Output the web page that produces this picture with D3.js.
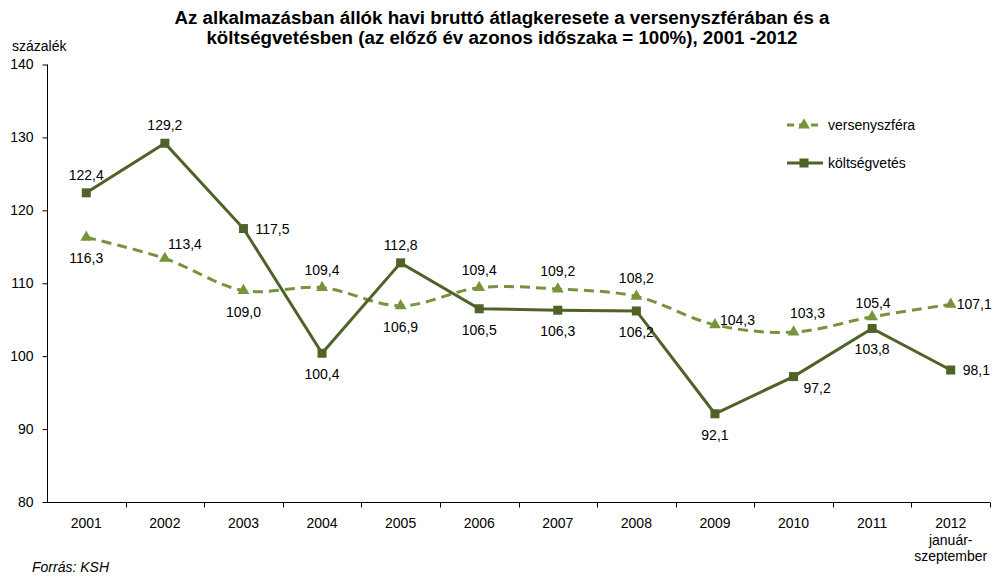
<!DOCTYPE html>
<html><head><meta charset="utf-8">
<script src="https://cdn.jsdelivr.net/npm/d3@7"></script>
<style>
html,body{margin:0;padding:0;background:#fff;}
text{font-family:"Liberation Sans",Arial,sans-serif;}
</style></head>
<body>
<svg id="chart" width="992" height="576"></svg>
<script>
const categories = ["2001","2002","2003","2004","2005","2006","2007","2008","2009","2010","2011","2012"];
const versenyszfera = [116.3,113.4,109.0,109.4,106.9,109.4,109.2,108.2,104.3,103.3,105.4,107.1];
const koltsegvetes = [122.4,129.2,117.5,100.4,112.8,106.5,106.3,106.2,92.1,97.2,103.8,98.1];
const yTicks = [80,90,100,110,120,130,140];
const seriesNames = ["versenyszféra","költségvetés"];
const titleLines = ["Az alkalmazásban állók havi bruttó átlagkeresete a versenyszférában és a",
                    "költségvetésben (az előző év azonos időszaka = 100%), 2001 -2012"];
// label placement codes
const vPlace = ["below","aboveRight","below","above","below","above","above","above","rightUp","aboveShift","aboveLow","right"];
const kPlace = ["above","above","rightFar","below","above","below","below","below","below","rightDown","below","rightFar"];

const svg = d3.select("#chart");
const x = d3.scaleBand().domain(categories).range([47, 990]);
const y = d3.scaleLinear().domain([80,140]).range([502, 64.5]);
const cx = d => x(d) + x.bandwidth()/2;

const cDash = "#77933C", cSolid = "#4F6228";
const FS = "14px";

// title
const t1 = svg.append("text").attr("x", 502).attr("y", 24).attr("text-anchor","middle")
  .style("font-size","18px").style("font-weight","bold").text(titleLines[0]);
const t2 = svg.append("text").attr("x", 502).attr("y", 44).attr("text-anchor","middle")
  .style("font-size","18px").style("font-weight","bold").text(titleLines[1]);
const L1 = t1.node().getComputedTextLength(), L2 = t2.node().getComputedTextLength();
const sc = 655 / L1;
t1.attr("textLength", 655).attr("lengthAdjust","spacingAndGlyphs");
t2.attr("textLength", L2*sc).attr("lengthAdjust","spacingAndGlyphs");

svg.append("text").attr("x", 12).attr("y", 51).style("font-size",FS).text("százalék");

// y axis
const yAxis = d3.axisLeft(y).tickValues(yTicks).tickSize(5).tickFormat(d3.format("d"));
const gy = svg.append("g").attr("transform","translate(47.5,0)").call(yAxis);
gy.selectAll("text").style("font-size",FS).attr("x",-14).attr("fill","#000").attr("font-family",null);
gy.selectAll("line").attr("stroke","#000");
gy.select(".domain").attr("stroke","#000").attr("d","M0,"+y(140)+"V"+y(80));

// x axis
const gx = svg.append("g").attr("transform","translate(0,502.5)");
gx.append("line").attr("x1",47).attr("x2",990).attr("stroke","#000");
const bounds = categories.map(c=>x(c)).concat([x(categories[categories.length-1])+x.bandwidth()]);
gx.selectAll("line.tk").data(bounds.slice(1)).enter().append("line")
  .attr("x1",d=>Math.round(d)+0.5).attr("x2",d=>Math.round(d)+0.5).attr("y1",0).attr("y2",5).attr("stroke","#000");
gx.selectAll("text.cat").data(categories).enter().append("text")
  .attr("x",d=>cx(d)).attr("y",25).attr("text-anchor","middle").style("font-size",FS).text(d=>d);
gx.append("text").attr("x",cx("2012")).attr("y",42).attr("text-anchor","middle").style("font-size",FS).text("január-");
gx.append("text").attr("x",cx("2012")).attr("y",58).attr("text-anchor","middle").style("font-size",FS).text("szeptember");

svg.append("text").attr("x",32).attr("y",572).style("font-size",FS).style("font-style","italic").text("Forrás: KSH");

// lines
const lineV = d3.line().x((d,i)=>cx(categories[i])).y(d=>y(d)).curve(d3.curveCatmullRom.alpha(0.5));
const lineK = d3.line().x((d,i)=>cx(categories[i])).y(d=>y(d));
svg.append("path").datum(versenyszfera).attr("d",lineV).attr("fill","none")
  .attr("stroke",cDash).attr("stroke-width",3).attr("stroke-dasharray","10,6");
svg.append("path").datum(koltsegvetes).attr("d",lineK).attr("fill","none")
  .attr("stroke",cSolid).attr("stroke-width",3);

const tri = d3.symbol().type(d3.symbolTriangle).size(60);
svg.selectAll("path.tri").data(versenyszfera).enter().append("path")
  .attr("d",tri).attr("fill",cDash)
  .attr("transform",(d,i)=>`translate(${cx(categories[i])},${y(d)})`);
svg.selectAll("rect.sq").data(koltsegvetes).enter().append("rect")
  .attr("x",(d,i)=>cx(categories[i])-4.5).attr("y",d=>y(d)-4.5).attr("width",9).attr("height",9).attr("fill",cSolid);

// labels
const offs = {
  above:[0,-13,"middle"], below:[0,26,"middle"], aboveRight:[3,-9,"start"],
  rightUp:[5,0,"start"], aboveShift:[14,-14,"middle"], aboveLow:[1,-9,"middle"],
  right:[6,5,"start"], rightFar:[12,5,"start"], rightDown:[10,16,"start"]
};
const fmt = v => d3.format(".1f")(v).replace(".",",");
function labels(vals, place){
  vals.forEach((v,i)=>{
    const o = offs[place[i]];
    svg.append("text").attr("x",cx(categories[i])+o[0]).attr("y",y(v)+o[1])
      .attr("text-anchor",o[2]).style("font-size",FS).text(fmt(v));
  });
}
labels(versenyszfera, vPlace);
labels(koltsegvetes, kPlace);

// legend
const lg = svg.append("g");
lg.append("line").attr("x1",787).attr("x2",821).attr("y1",125).attr("y2",125)
  .attr("stroke",cDash).attr("stroke-width",3).attr("stroke-dasharray","7,5");
lg.append("path").attr("d",tri).attr("fill",cDash).attr("transform","translate(804,125)");
lg.append("text").attr("x",828).attr("y",130).style("font-size",FS).text(seriesNames[0]);
lg.append("line").attr("x1",787).attr("x2",823).attr("y1",163).attr("y2",163)
  .attr("stroke",cSolid).attr("stroke-width",3);
lg.append("rect").attr("x",799.5).attr("y",158.5).attr("width",9).attr("height",9).attr("fill",cSolid);
lg.append("text").attr("x",828).attr("y",168).style("font-size",FS).text(seriesNames[1]);
</script>
</body></html>
